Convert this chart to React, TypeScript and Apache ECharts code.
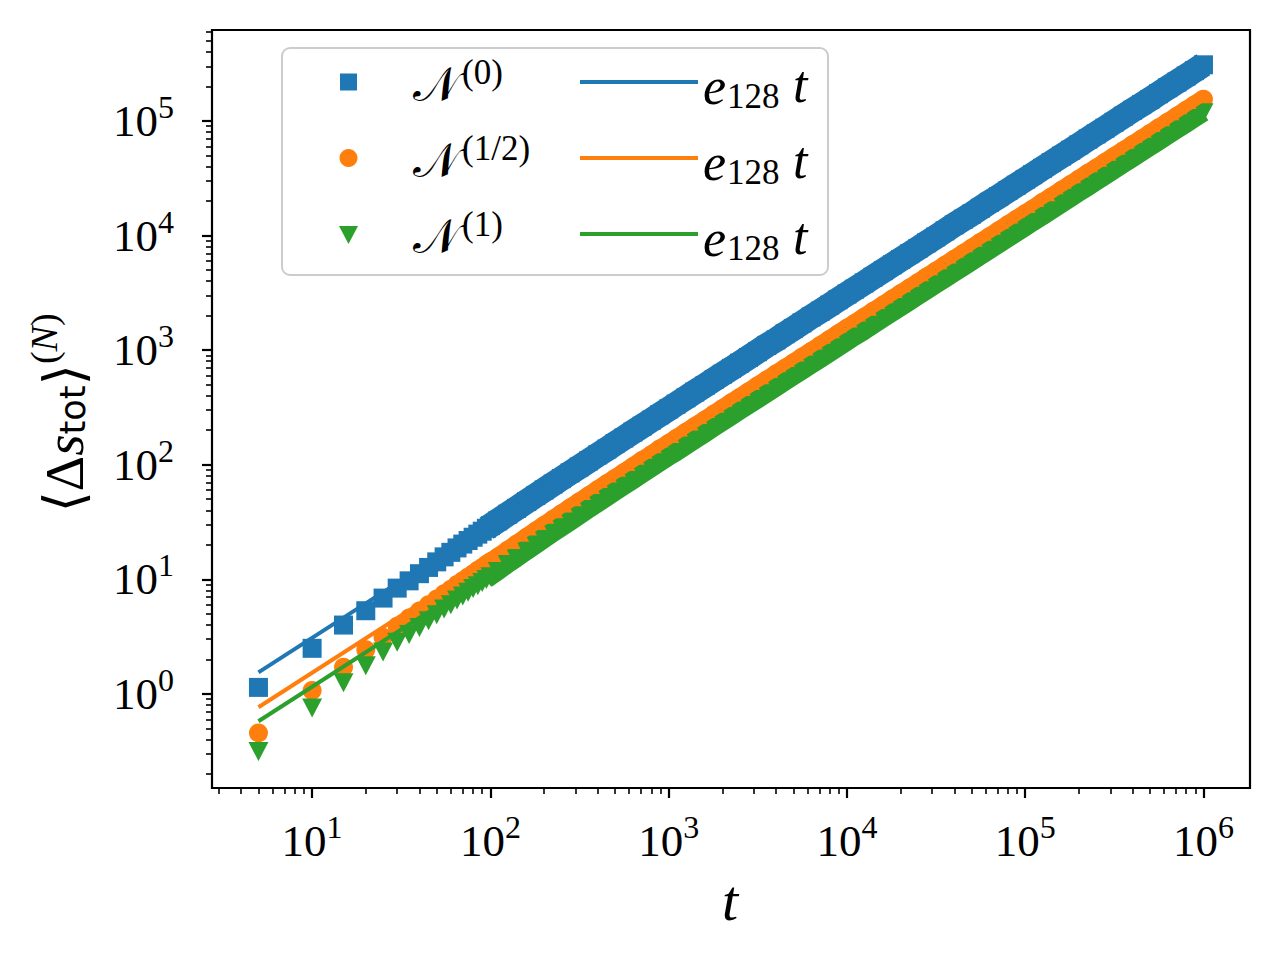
import React, { useEffect, useRef } from "react";
import * as echarts from "echarts";

// ---------- data ----------
const T = [
  5, 10, 15, 20, 25, 30, 35, 40, 45, 50, 55, 60, 65, 70, 75, 80, 85, 90, 95, 100,
  110, 125, 140, 160, 180, 200, 225, 250, 280, 315, 355, 400, 450, 500, 560, 630, 710, 800, 890, 1000,
  1100, 1250, 1400, 1600, 1800, 2000, 2250, 2500, 2800, 3150, 3550, 4000, 4500, 5000, 5600, 6300, 7100, 8000, 8900, 10000,
  11000, 12500, 14000, 16000, 18000, 20000, 22500, 25000, 28000, 31500, 35500, 40000, 45000, 50000, 56000, 63000, 71000, 80000, 89000, 100000,
  110000, 125000, 140000, 160000, 180000, 200000, 225000, 250000, 280000, 315000, 355000, 400000, 450000, 500000, 560000, 630000, 710000, 800000, 890000, 1000000,
];

const N0 = [
  1.14, 2.5, 3.99, 5.32, 6.86, 8.38, 9.7, 11.2, 12.7, 14.2, 15.7, 17.2, 18.8, 20.3, 21.8, 23.3, 24.8, 26.3, 27.9, 29.4,
  32.4, 37.0, 41.6, 47.8, 54.0, 60.2, 67.9, 75.6, 84.9, 95.7, 108, 122, 137, 153, 171, 193, 217, 245, 273, 307,
  338, 384, 431, 492, 554, 616, 693, 770, 863, 971, 1100, 1230, 1390, 1540, 1730, 1950, 2190, 2470, 2750, 3090,
  3400, 3860, 4330, 4940, 5560, 6180, 6950, 7720, 8650, 9730, 11000, 12400, 13900, 15400, 17300, 19500, 21900, 24700, 27500, 30900,
  34000, 38600, 43300, 49400, 55600, 61800, 69500, 77200, 86500, 97300, 110000, 124000, 139000, 154000, 173000, 195000, 219000, 247000, 275000, 309000,
];

const N_HALF = [
  0.457, 1.07, 1.71, 2.43, 3.12, 3.9, 4.6, 5.3, 6.0, 6.75, 7.5, 8.2, 9.0, 9.7, 10.5, 11.2, 12.0, 12.7, 13.5, 14.2,
  15.6, 17.9, 20.2, 23.3, 26.4, 29.5, 33.4, 37.3, 41.9, 47.3, 53.5, 60.5, 68.3, 76.0, 85.3, 96.2, 109, 122, 137, 153,
  169, 192, 215, 246, 277, 308, 347, 385, 432, 486, 548, 618, 695, 773, 866, 975, 1100, 1240, 1380, 1550,
  1700, 1940, 2170, 2480, 2790, 3100, 3490, 3870, 4340, 4880, 5500, 6200, 6970, 7750, 8680, 9760, 11000, 12400, 13800, 15500,
  17000, 19400, 21700, 24800, 27900, 31000, 34900, 38700, 43400, 48800, 55000, 62000, 69700, 77500, 86800, 97600, 110000, 124000, 138000, 155000,
];

const N1 = [
  0.314, 0.755, 1.25, 1.76, 2.32, 2.83, 3.3, 3.8, 4.35, 4.9, 5.5, 6.0, 6.6, 7.15, 7.7, 8.3, 8.8, 9.4, 9.95, 10.55,
  11.7, 13.5, 15.2, 17.6, 19.9, 22.3, 25.3, 28.2, 31.7, 35.9, 40.6, 45.9, 51.8, 57.7, 64.8, 73.0, 82.5, 93.1, 104, 117,
  128, 146, 164, 187, 211, 235, 264, 294, 329, 370, 417, 471, 530, 589, 659, 742, 836, 941, 1050, 1180,
  1300, 1470, 1650, 1890, 2120, 2360, 2650, 2950, 3300, 3720, 4190, 4720, 5310, 5900, 6610, 7430, 8380, 9440, 10500, 11800,
  13000, 14700, 16500, 18900, 21200, 23600, 26500, 29500, 33000, 37200, 41900, 47200, 53100, 59000, 66100, 74300, 83800, 94400, 105000, 118000,
];

// fitted lines e_128 t, endpoints
const FIT_T = [5, 1000000];
const FIT_0 = [1.54, 309000];
const FIT_HALF = [0.765, 153000];
const FIT_1 = [0.577, 115000];

// ticks
const X_MAJOR = [10, 100, 1000, 10000, 100000, 1000000];
const X_EXP = ["1", "2", "3", "4", "5", "6"];
const Y_MAJOR = [1, 10, 100, 1000, 10000, 100000];
const Y_EXP = ["0", "1", "2", "3", "4", "5"];
const X_MINOR = [
  3, 4, 5, 6, 7, 8, 9,
  20, 30, 40, 50, 60, 70, 80, 90,
  200, 300, 400, 500, 600, 700, 800, 900,
  2000, 3000, 4000, 5000, 6000, 7000, 8000, 9000,
  20000, 30000, 40000, 50000, 60000, 70000, 80000, 90000,
  200000, 300000, 400000, 500000, 600000, 700000, 800000, 900000,
];
const Y_MINOR = [
  0.2, 0.3, 0.4, 0.5, 0.6, 0.7, 0.8, 0.9,
  2, 3, 4, 5, 6, 7, 8, 9,
  20, 30, 40, 50, 60, 70, 80, 90,
  200, 300, 400, 500, 600, 700, 800, 900,
  2000, 3000, 4000, 5000, 6000, 7000, 8000, 9000,
  20000, 30000, 40000, 50000, 60000, 70000, 80000, 90000,
  200000, 300000, 400000, 500000, 600000,
];

const X_MIN = 2.744;
const X_MAX = 1824000;
const Y_MIN = 0.151;
const Y_MAX = 622000;

// points from here on are so dense in the original that they merge into a band
const DENSE_FROM_T = 95;

const LEGEND_LABELS = ["(0)", "(1/2)", "(1)"];

const C0 = "#1f77b4";
const C1 = "#ff7f0e";
const C2 = "#2ca02c";
const FONT = '"Liberation Serif", "DejaVu Serif", serif';

function expLabel(list: number[], exps: string[]) {
  return (v: number) => {
    const i = list.findIndex((m) => Math.abs(m - v) / m < 1e-6);
    return `{b|10}{s|${i >= 0 ? exps[i] : ""}}`;
  };
}

const labelRich = {
  b: { fontFamily: FONT, fontSize: 45, color: "#000" },
  s: { fontFamily: FONT, fontSize: 32, color: "#000", padding: [0, 0, 28, 0] },
};

export default function App() {
  const ref = useRef<HTMLDivElement>(null);

  useEffect(() => {
    if (!ref.current) return;
    const chart = echarts.init(ref.current, undefined, { renderer: "svg" });

    const pairs = (ys: number[]) => T.map((t, i) => [t, ys[i]]);
    const densePairs = (ys: number[]) =>
      T.map((t, i) => [t, ys[i]]).filter((p) => p[0] >= DENSE_FROM_T);
    const fitPairs = (ys: number[]) => FIT_T.map((t, i) => [t, ys[i]]);

    const legendRows = [C0, C1, C2].map((c, r) => {
      const yc = 82 + 76 * r;
      let marker: any;
      if (r === 0) {
        marker = { type: "rect", shape: { x: 340, y: yc - 8.5, width: 17, height: 17 }, style: { fill: c } };
      } else if (r === 1) {
        marker = { type: "circle", shape: { cx: 348.5, cy: yc, r: 9 }, style: { fill: c } };
      } else {
        marker = {
          type: "polygon",
          shape: { points: [[339, yc - 8], [358, yc - 8], [348.5, yc + 10]] },
          style: { fill: c },
        };
      }
      return [
        { ...marker, z: 101 },
        {
          type: "text", z: 101,
          style: { text: "𝒩", x: 413, y: yc + 2, fontFamily: FONT, fontSize: 48, fill: "#000", align: "left", verticalAlign: "middle" },
        },
        {
          type: "text", z: 101,
          style: { text: LEGEND_LABELS[r], x: 462, y: yc - 10, fontFamily: FONT, fontSize: 35, fill: "#000", align: "left", verticalAlign: "middle" },
        },
        { type: "line", z: 101, shape: { x1: 580, y1: yc, x2: 698, y2: yc }, style: { stroke: c, lineWidth: 4 } },
        {
          type: "text", z: 101,
          style: { text: "e", x: 703, y: yc + 4, fontFamily: FONT, fontStyle: "italic", fontSize: 52, fill: "#000", align: "left", verticalAlign: "middle" },
        },
        {
          type: "text", z: 101,
          style: { text: "128", x: 727, y: yc + 14, fontFamily: FONT, fontSize: 35, fill: "#000", align: "left", verticalAlign: "middle" },
        },
        {
          type: "text", z: 101,
          style: { text: "t", x: 793, y: yc + 2, fontFamily: FONT, fontStyle: "italic", fontSize: 52, fill: "#000", align: "left", verticalAlign: "middle" },
        },
      ];
    });

    const bandLine = (ys: number[], color: string, width: number) => ({
      type: "line", data: densePairs(ys), symbol: "none", showSymbol: false,
      lineStyle: { color, width, cap: "butt", join: "round" }, silent: true, z: 2,
    });

    const option: any = {
      animation: false,
      backgroundColor: "#ffffff",
      grid: {
        left: 212, top: 30, width: 1038, height: 758,
        show: true, borderColor: "#000", borderWidth: 2.2, backgroundColor: "transparent",
        containLabel: false, outerBoundsMode: "none",
      },
      xAxis: [
        {
          type: "log", gridIndex: 0, position: "bottom", min: X_MIN, max: X_MAX,
          axisLine: { show: false }, splitLine: { show: false }, minorTick: { show: false },
          axisTick: { show: true, customValues: X_MAJOR, length: 10, lineStyle: { color: "#000", width: 2.2 } },
          axisLabel: { show: true, customValues: X_MAJOR, margin: 23, formatter: expLabel(X_MAJOR, X_EXP), rich: labelRich },
        },
        {
          type: "log", gridIndex: 0, position: "bottom", min: X_MIN, max: X_MAX,
          axisLine: { show: false }, splitLine: { show: false }, minorTick: { show: false },
          axisTick: { show: true, customValues: X_MINOR, length: 6, lineStyle: { color: "#000", width: 1.6 } },
          axisLabel: { show: false },
        },
      ],
      yAxis: [
        {
          type: "log", gridIndex: 0, position: "left", min: Y_MIN, max: Y_MAX,
          axisLine: { show: false }, splitLine: { show: false }, minorTick: { show: false },
          axisTick: { show: true, customValues: Y_MAJOR, length: 10, lineStyle: { color: "#000", width: 2.2 } },
          axisLabel: { show: true, customValues: Y_MAJOR, margin: 38, formatter: expLabel(Y_MAJOR, Y_EXP), rich: labelRich },
        },
        {
          type: "log", gridIndex: 0, position: "left", min: Y_MIN, max: Y_MAX,
          axisLine: { show: false }, splitLine: { show: false }, minorTick: { show: false },
          axisTick: { show: true, customValues: Y_MINOR, length: 6, lineStyle: { color: "#000", width: 1.6 } },
          axisLabel: { show: false },
        },
      ],
      series: [
        bandLine(N0, C0, 25),
        {
          type: "scatter", data: pairs(N0), symbol: "rect", symbolSize: 19,
          itemStyle: { color: C0, opacity: 1 }, silent: true, z: 2,
        },
        bandLine(N_HALF, C1, 18.5),
        {
          type: "scatter", data: pairs(N_HALF), symbol: "circle", symbolSize: 19,
          itemStyle: { color: C1, opacity: 1 }, silent: true, z: 2,
        },
        bandLine(N1, C2, 18),
        {
          type: "scatter", data: pairs(N1), symbol: "triangle", symbolRotate: 180, symbolSize: [20, 19],
          itemStyle: { color: C2, opacity: 1 }, silent: true, z: 2,
        },
        {
          type: "line", data: fitPairs(FIT_0), symbol: "none", showSymbol: false,
          lineStyle: { color: C0, width: 4 }, silent: true, z: 5,
        },
        {
          type: "line", data: fitPairs(FIT_HALF), symbol: "none", showSymbol: false,
          lineStyle: { color: C1, width: 4 }, silent: true, z: 5,
        },
        {
          type: "line", data: fitPairs(FIT_1), symbol: "none", showSymbol: false,
          lineStyle: { color: C2, width: 4 }, silent: true, z: 5,
        },
      ],
      graphic: [
        {
          type: "rect", z: 100,
          shape: { x: 282, y: 48, width: 546, height: 227, r: 8 },
          style: { fill: "rgba(255,255,255,0.8)", stroke: "#cccccc", lineWidth: 2 },
        },
        ...legendRows.flat(),
        {
          type: "text", z: 100,
          style: { text: "t", x: 730, y: 900, fontFamily: FONT, fontStyle: "italic", fontSize: 58, fill: "#000", align: "center", verticalAlign: "middle" },
        },
        {
          type: "text", z: 100, x: 64, y: 413, rotation: Math.PI / 2,
          style: {
            text: "{a|⟨Δ}{i|s}{sub|tot}{a|⟩}{sup|(}{supi|N}{sup|)}",
            x: 0, y: 0, align: "center", verticalAlign: "middle", fill: "#000",
            rich: {
              a: { fontFamily: FONT, fontSize: 55, color: "#000" },
              i: { fontFamily: FONT, fontSize: 55, fontStyle: "italic", color: "#000" },
              sub: { fontFamily: '"DejaVu Sans", sans-serif', fontSize: 35, color: "#000", padding: [18, 0, 0, 0] },
              sup: { fontFamily: FONT, fontSize: 38, color: "#000", padding: [0, 0, 40, 0] },
              supi: { fontFamily: FONT, fontSize: 38, fontStyle: "italic", color: "#000", padding: [0, 0, 40, 0] },
            },
          },
        },
      ],
    };

    chart.setOption(option);
    return () => chart.dispose();
  }, []);

  return (
    <div
      ref={ref}
      style={{ position: "absolute", left: 0, top: 0, width: 1280, height: 960, background: "#fff" }}
    />
  );
}
